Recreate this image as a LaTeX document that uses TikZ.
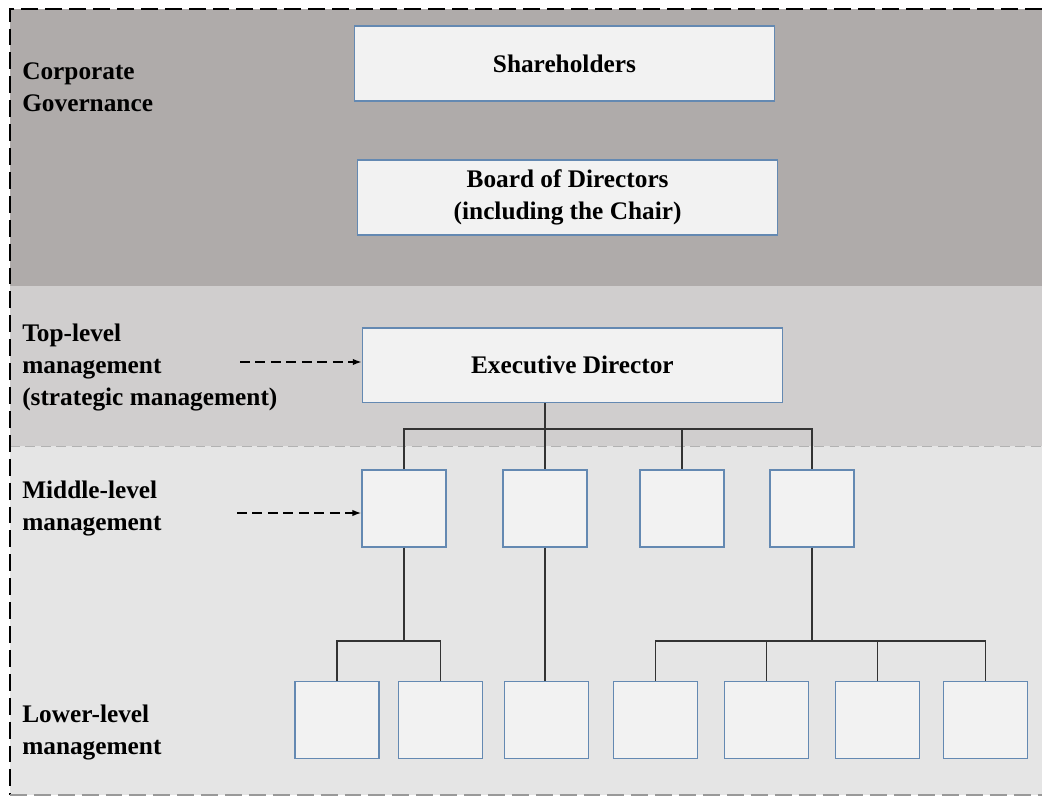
\documentclass[tikz,border=0pt]{standalone}
\usepackage{fontspec}
\setmainfont{Liberation Serif}
\usepackage{xcolor}
\usepackage{tikz}
\usetikzlibrary{arrows.meta, calc}

\definecolor{govgray}{RGB}{175,171,170}
\definecolor{topgray}{RGB}{208,206,206}
\definecolor{lowgray}{RGB}{229,229,229}
\definecolor{boxfill}{RGB}{242,242,242}
\definecolor{boxline}{RGB}{100,137,178}

\begin{document}
\begin{tikzpicture}[
        box/.style={rectangle, draw=boxline, fill=boxfill, line width=1.1pt, align=center, font=\fontsize{18}{22.8}\selectfont\bfseries},
        wide/.style={box, minimum width=10.5cm, minimum height=1.87cm},
        small/.style={box, minimum width=2.1cm, minimum height=1.92cm},
        level/.style={anchor=west, inner sep=0pt, align=left, font=\fontsize{18}{22.8}\selectfont\bfseries},
        conn/.style={draw=black!80, line width=1.1pt},
        pointer/.style={-{Latex[length=2.2mm,width=1.6mm]}, dash pattern=on 7pt off 4pt, line width=1pt}
    ]
    \useasboundingbox (0,0) rectangle (26.05,-19.9);

    % Bands
    \fill[govgray] (0.25,-0.225) rectangle (26.05,-7.15);
    \fill[topgray] (0.25,-7.15) rectangle (26.05,-11.15);
    \fill[lowgray] (0.25,-11.15) rectangle (26.05,-19.875);
    \draw[black!30, line width=0.6pt, dash pattern=on 7pt off 4pt] (0.25,-11.15) -- (26.05,-11.15);
    \draw[black, line width=1.3pt, dash pattern=on 12pt off 5pt] (26.05,-0.225) -- (0.25,-0.225) -- (0.25,-19.875);
    \draw[black!40, line width=1.3pt, dash pattern=on 12pt off 5pt] (0.25,-19.875) -- (26.05,-19.875);

    % Level labels
    \node[level] (gov) at (0.55,-2.19) {Corporate\\Governance};
    \node[level] (toplvl) at (0.55,-9.19) {Top-level\\management\\(strategic management)};
    \node[level] (midlvl) at (0.55,-12.71) {Middle-level\\management};
    \node[level] (lowlvl) at (0.55,-18.31) {Lower-level\\management};

    % Governance
    \node[wide] (share) at (14.11,-1.59) {Shareholders};
    \node[wide] (board) at (14.19,-4.94) {Board of Directors\\(including the Chair)};

    % Top level
    \node[wide] (exec) at (14.31,-9.13) {Executive Director};

    % Middle level
    \node[small] (mid1) at (10.1,-12.71) {};
    \node[small] (mid2) at (13.625,-12.71) {};
    \node[small] (mid3) at (17.05,-12.71) {};
    \node[small] (mid4) at (20.3,-12.71) {};

    % Lower level
    \node[small] (low1) at (8.43,-18.0) {};
    \node[small] (low2) at (11.01,-18.0) {};
    \node[small] (low3) at (13.66,-18.0) {};
    \node[small] (low4) at (16.39,-18.0) {};
    \node[small] (low5) at (19.16,-18.0) {};
    \node[small] (low6) at (21.94,-18.0) {};
    \node[small] (low7) at (24.64,-18.0) {};

    % Connectors
    \coordinate (topbus) at (0,-10.725);
    \coordinate (lowbus) at (0,-16.03);
    \draw[conn] (exec.south -| mid2.north) -- (mid2.north);
    \draw[conn] (mid1.north) -- (mid1.north |- topbus) -| (mid4.north);
    \draw[conn] (mid3.north |- topbus) -- (mid3.north);
    \draw[conn] (mid1.south) -- (mid1.south |- lowbus);
    \draw[conn] (low1.north) -- (low1.north |- lowbus) -| (low2.north);
    \draw[conn] (mid2.south) -- (mid2.south |- low3.north);
    \draw[conn] (mid4.south) -- (mid4.south |- lowbus);
    \draw[conn] (low4.north) -- (low4.north |- lowbus) -| (low7.north);
    \draw[conn] (low5.north) -- (low5.north |- lowbus);
    \draw[conn] (low6.north) -- (low6.north |- lowbus);

    % Pointers
    \coordinate (topfrom) at (6.0,-9.05);
    \coordinate (midfrom) at (5.925,-12.825);
    \draw[pointer] (topfrom) -- (exec.west |- topfrom);
    \draw[pointer] (midfrom) -- (mid1.west |- midfrom);

\end{tikzpicture}
\end{document}
